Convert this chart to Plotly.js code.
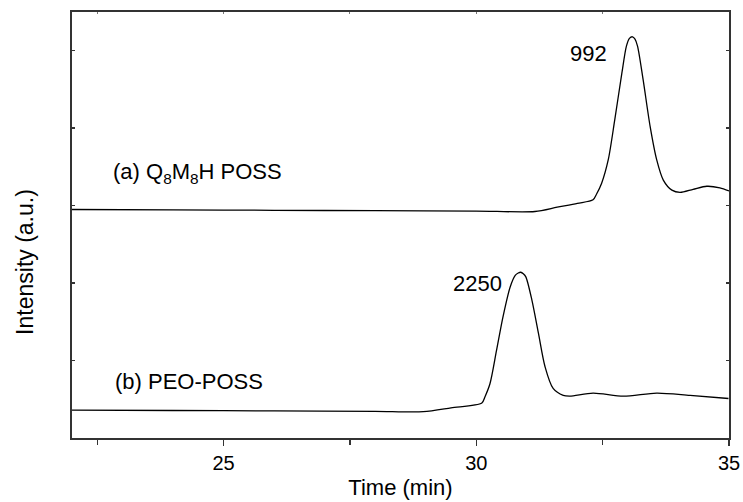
<!DOCTYPE html>
<html>
<head>
<meta charset="utf-8">
<script src="https://cdn.plot.ly/plotly-3.0.1.min.js"></script>
<style>html,body{margin:0;padding:0;background:#fff;}#chart{width:743px;height:502px;}</style>
</head>
<body>
<div id="chart"></div>
<script>
// Trace (a) Q8M8H POSS
var timeA = [22.0, 24.0, 26.0, 28.0, 30.0, 31.16, 31.6, 32.0, 32.31, 32.38, 32.48, 32.61, 32.74, 32.88, 32.97, 33.03, 33.09, 33.14, 33.19, 33.30, 33.44, 33.57, 33.70, 33.87, 34.03, 34.29, 34.56, 34.82, 35.0];
var intA  = [2.95, 2.945, 2.94, 2.935, 2.93, 2.924, 2.98, 3.03, 3.075, 3.15, 3.29, 3.59, 4.11, 4.71, 5.06, 5.16, 5.18, 5.15, 5.06, 4.63, 4.02, 3.59, 3.33, 3.20, 3.17, 3.21, 3.25, 3.23, 3.19];
// Trace (b) PEO-POSS
var timeB = [22.0, 24.0, 26.0, 28.0, 28.95, 29.5, 30.11, 30.17, 30.27, 30.40, 30.53, 30.67, 30.77, 30.83, 30.88, 30.93, 30.98, 31.10, 31.23, 31.36, 31.52, 31.72, 31.85, 32.31, 32.91, 33.57, 34.23, 34.99];
var intB  = [0.36, 0.355, 0.35, 0.345, 0.34, 0.39, 0.453, 0.53, 0.70, 1.13, 1.57, 1.95, 2.10, 2.13, 2.14, 2.12, 2.08, 1.78, 1.35, 0.92, 0.64, 0.55, 0.54, 0.58, 0.54, 0.58, 0.55, 0.51];
var labels = ["(a) Q<sub>8</sub>M<sub>8</sub>H POSS", "(b) PEO-POSS", "992", "2250"];
var xTitle = "Time (min)";
var yTitle = "Intensity (a.u.)";

var font = "Liberation Sans, Arial, sans-serif";
var traces = [
  {x: timeA, y: intA, mode: "lines", line: {color: "#000", width: 1.3, shape: "spline", smoothing: 0.8}, hoverinfo: "none"},
  {x: timeB, y: intB, mode: "lines", line: {color: "#000", width: 1.3, shape: "spline", smoothing: 0.8}, hoverinfo: "none"},
  {x: [22, 35], y: [0, 0], xaxis: "x2", mode: "none", hoverinfo: "none"}
];
var layout = {
  width: 743, height: 502,
  margin: {l: 72, r: 14, t: 12, b: 64},
  paper_bgcolor: "#fff", plot_bgcolor: "#fff",
  showlegend: false,
  font: {family: font, color: "#000", size: 20},
  xaxis: {
    range: [22, 35], tick0: 25, dtick: 5, ticks: "outside", ticklen: 6, tickwidth: 1.5, tickcolor: "#333",
    minor: {dtick: 2.5, tick0: 22.5, ticks: "outside", ticklen: 5, tickwidth: 1.5, tickcolor: "#333"},
    showline: true, linecolor: "#333", linewidth: 1.8, mirror: true, showgrid: false, zeroline: false,
    tickfont: {size: 20, family: font, color: "#000"}, title: {text: xTitle, font: {size: 22, family: font, color: "#000"}, standoff: 7}
  },
  xaxis2: {
    overlaying: "x", side: "top", range: [22, 35], tick0: 22.5, dtick: 2.5, ticks: "inside", ticklen: 2,
    tickwidth: 1, tickcolor: "#777", showticklabels: false, showgrid: false, zeroline: false, showline: false
  },
  yaxis: {
    range: [0, 5.5], dtick: 1, tick0: 0, ticks: "inside", ticklen: 3, tickwidth: 1.5, tickcolor: "#333",
    showticklabels: false, showline: true, linecolor: "#333", linewidth: 1.8, mirror: "ticks", showgrid: false, zeroline: false
  },
  annotations: [
    {xref: "paper", yref: "y", x: -0.072, y: 2.27, text: yTitle, textangle: -90, showarrow: false, xanchor: "center", yanchor: "middle", font: {size: 23, family: font, color: "#000"}},
    {x: 22.77, y: 3.42, text: labels[0], showarrow: false, xanchor: "left", yanchor: "middle", font: {size: 22, family: font, color: "#000"}},
    {x: 22.81, y: 0.73, text: labels[1], showarrow: false, xanchor: "left", yanchor: "middle", font: {size: 22, family: font, color: "#000"}},
    {x: 32.21, y: 4.97, text: labels[2], showarrow: false, xanchor: "center", yanchor: "middle", font: {size: 22, family: font, color: "#000"}},
    {x: 30.02, y: 1.99, text: labels[3], showarrow: false, xanchor: "center", yanchor: "middle", font: {size: 22, family: font, color: "#000"}}
  ]
};
Plotly.newPlot("chart", traces, layout, {staticPlot: true, displayModeBar: false});
</script>
</body>
</html>
